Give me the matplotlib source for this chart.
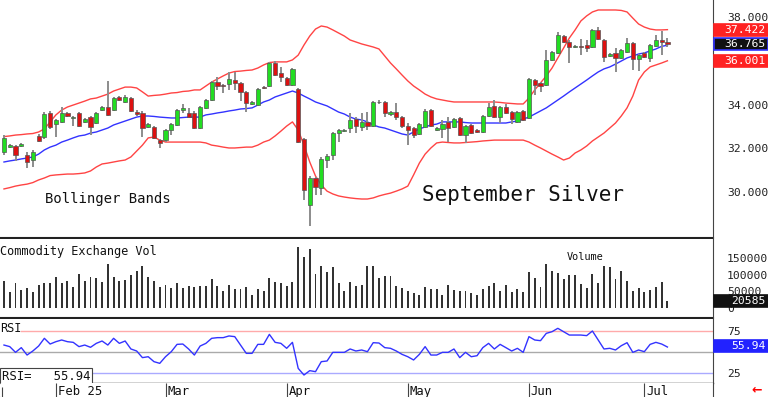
import numpy as np
import matplotlib
matplotlib.use("Agg")
import matplotlib.pyplot as plt
from matplotlib.patches import Rectangle

plt.rcParams['font.family'] = ['DejaVu Sans Mono']

# ---------------- data ----------------
opens = [
31.84, 32.06, 32.11, 32.11, 31.70, 31.47, 32.57, 32.52, 33.62, 33.11,
33.21, 33.62, 33.39, 33.62, 33.21, 33.43, 33.16, 33.75, 33.89, 33.75,
34.35, 34.12, 34.30, 33.66, 33.62, 32.98, 32.98, 32.38, 32.38, 32.84,
33.07, 33.75, 33.62, 33.62, 32.93, 33.85, 34.21, 35.03, 34.91, 34.95,
35.12, 34.99, 34.58, 34.05, 33.98, 34.82, 34.85, 35.90, 35.44, 35.21,
34.89, 34.71, 32.43, 29.42, 30.65, 30.19, 31.47, 31.70, 32.70, 32.80,
32.93, 33.34, 32.98, 33.21, 33.02, 34.10, 34.12, 33.57, 33.66, 33.43,
33.02, 32.93, 32.66, 32.98, 33.75, 32.84, 32.89, 33.21, 32.98, 33.39,
32.61, 33.07, 32.84, 32.75, 33.48, 33.94, 33.43, 33.89, 33.66, 33.21,
33.71, 33.39, 35.12, 34.99, 34.89, 36.04, 36.36, 37.13, 36.86, 36.62,
36.66, 36.72, 36.63, 37.41, 36.95, 36.22, 36.36, 36.13, 36.40, 36.81,
36.08, 36.36, 36.13, 36.67, 36.95, 36.86]
closes = [
32.47, 32.15, 31.70, 32.20, 31.38, 31.84, 32.34, 33.57, 32.98, 33.30,
33.62, 33.48, 33.43, 33.02, 33.34, 32.98, 33.62, 33.89, 33.53, 34.30,
34.21, 34.35, 33.71, 33.57, 32.93, 33.12, 32.48, 32.25, 32.84, 33.12,
33.75, 33.85, 33.43, 32.93, 33.89, 34.21, 35.03, 34.85, 34.87, 35.17,
34.99, 34.58, 34.07, 34.12, 34.71, 34.76, 35.90, 35.35, 35.26, 34.89,
35.63, 32.29, 30.10, 30.65, 30.24, 31.52, 31.65, 32.70, 32.84, 32.84,
33.30, 33.02, 33.21, 33.02, 34.12, 34.13, 33.62, 33.66, 33.43, 33.02,
32.84, 32.61, 33.12, 33.71, 33.02, 32.93, 33.12, 32.93, 33.34, 32.61,
33.02, 32.70, 32.75, 33.48, 33.89, 33.43, 33.89, 33.62, 33.34, 33.66,
33.30, 35.17, 34.89, 34.85, 36.04, 36.40, 37.18, 36.86, 36.63, 36.66,
36.62, 36.58, 37.41, 36.99, 36.17, 36.31, 36.13, 36.49, 36.81, 36.08,
36.27, 36.17, 36.72, 36.95, 36.86, 36.765]
highs = [
32.61, 32.20, 32.15, 32.25, 31.84, 31.95, 32.65, 33.65, 33.70, 33.35,
33.89, 33.68, 33.48, 33.68, 33.40, 33.48, 33.66, 33.95, 35.08, 34.35,
34.40, 34.45, 34.35, 33.75, 33.70, 33.17, 33.02, 32.43, 32.89, 33.17,
33.80, 34.03, 33.85, 33.70, 33.95, 34.25, 35.10, 35.26, 34.92, 35.49,
35.49, 35.03, 34.62, 34.15, 34.78, 34.85, 35.95, 35.99, 35.72, 35.26,
35.68, 34.78, 32.47, 30.75, 30.70, 31.60, 31.75, 32.75, 32.90, 32.89,
33.62, 33.43, 33.62, 33.66, 34.17, 34.20, 34.17, 33.70, 34.07, 33.48,
33.16, 32.98, 33.17, 33.80, 33.80, 32.98, 33.30, 33.43, 33.40, 33.45,
33.07, 33.12, 32.89, 33.53, 34.07, 34.21, 33.95, 34.03, 33.70, 33.70,
33.75, 35.22, 35.17, 35.03, 36.49, 36.45, 37.32, 37.20, 36.95, 36.70,
37.00, 36.95, 37.46, 37.54, 37.00, 36.36, 36.58, 36.54, 37.04, 36.86,
36.31, 36.40, 36.77, 37.18, 37.36, 37.04]
lows = [
31.70, 32.00, 31.43, 32.05, 31.10, 31.15, 32.30, 32.45, 32.90, 32.52,
33.15, 33.42, 33.02, 32.98, 33.15, 32.61, 33.10, 33.70, 33.48, 33.70,
34.15, 34.08, 33.66, 33.50, 32.52, 32.93, 32.43, 32.02, 32.30, 32.61,
33.02, 33.62, 33.39, 32.88, 32.88, 33.80, 34.15, 34.67, 34.53, 34.67,
34.67, 34.17, 33.66, 34.00, 33.93, 34.71, 34.80, 35.30, 35.03, 34.85,
34.85, 32.25, 29.64, 28.46, 29.87, 29.87, 31.10, 31.47, 32.29, 32.75,
32.70, 32.70, 32.80, 32.84, 32.98, 34.05, 33.43, 33.48, 33.30, 32.93,
32.15, 32.48, 32.61, 32.93, 32.98, 32.80, 32.48, 32.29, 32.93, 32.57,
32.25, 32.66, 32.70, 32.70, 33.43, 33.39, 33.16, 33.57, 33.11, 33.16,
33.25, 33.34, 34.44, 34.58, 34.85, 35.99, 36.30, 36.80, 35.90, 36.58,
36.27, 36.40, 36.58, 36.95, 35.94, 36.18, 35.49, 36.08, 36.36, 35.58,
35.53, 36.13, 35.94, 36.62, 36.27, 36.63]

bb_upper = [
32.54, 32.57, 32.61, 32.63, 32.66, 32.68, 32.75, 32.89, 33.21, 33.53,
33.75, 33.89, 33.98, 34.07, 34.16, 34.26, 34.30, 34.39, 34.48, 34.62,
34.71, 34.80, 34.80, 34.76, 34.58, 34.39, 34.42, 34.44, 34.48, 34.53,
34.55, 34.60, 34.62, 34.67, 34.67, 34.85, 35.03, 35.17, 35.31, 35.44,
35.51, 35.53, 35.56, 35.58, 35.67, 35.81, 35.92, 35.95, 35.95, 35.95,
36.04, 36.26, 36.72, 37.13, 37.45, 37.59, 37.54, 37.41, 37.27, 37.13,
36.95, 36.86, 36.77, 36.70, 36.63, 36.54, 36.22, 35.90, 35.63, 35.35,
35.08, 34.85, 34.67, 34.48, 34.35, 34.26, 34.21, 34.16, 34.12, 34.12,
34.12, 34.12, 34.12, 34.12, 34.12, 34.12, 34.10, 34.07, 34.05, 34.03,
34.03, 34.30, 34.67, 34.99, 35.31, 35.67, 36.13, 36.58, 37.04, 37.41,
37.82, 38.05, 38.23, 38.32, 38.32, 38.32, 38.32, 38.30, 38.23, 37.95,
37.68, 37.54, 37.45, 37.41, 37.41, 37.422]
bb_mid = [
31.38, 31.43, 31.47, 31.52, 31.56, 31.61, 31.74, 31.93, 32.06, 32.15,
32.29, 32.38, 32.48, 32.57, 32.61, 32.70, 32.75, 32.84, 32.93, 33.07,
33.16, 33.25, 33.34, 33.43, 33.48, 33.48, 33.46, 33.43, 33.41, 33.39,
33.39, 33.41, 33.43, 33.43, 33.43, 33.53, 33.57, 33.62, 33.66, 33.71,
33.75, 33.80, 33.82, 33.85, 33.98, 34.12, 34.21, 34.35, 34.44, 34.53,
34.62, 34.53, 34.39, 34.26, 34.12, 34.03, 33.94, 33.80, 33.66, 33.57,
33.43, 33.34, 33.30, 33.21, 33.07, 32.98, 32.93, 32.84, 32.75, 32.66,
32.61, 32.75, 32.89, 32.98, 33.07, 33.11, 33.21, 33.21, 33.21, 33.21,
33.18, 33.16, 33.16, 33.16, 33.16, 33.16, 33.16, 33.16, 33.21, 33.25,
33.34, 33.43, 33.57, 33.71, 33.85, 34.03, 34.21, 34.39, 34.58, 34.76,
34.94, 35.12, 35.31, 35.49, 35.63, 35.72, 35.85, 35.99, 36.13, 36.22,
36.31, 36.36, 36.45, 36.54, 36.66, 36.71]
bb_lower = [
30.15, 30.21, 30.28, 30.33, 30.37, 30.44, 30.56, 30.65, 30.76, 30.79,
30.81, 30.83, 30.83, 30.85, 30.88, 30.97, 31.15, 31.29, 31.33, 31.38,
31.43, 31.47, 31.61, 31.88, 32.15, 32.48, 32.52, 32.38, 32.29, 32.29,
32.29, 32.29, 32.29, 32.29, 32.29, 32.25, 32.15, 32.11, 32.06, 32.02,
32.02, 32.04, 32.06, 32.06, 32.15, 32.29, 32.38, 32.57, 32.79, 33.02,
33.21, 32.84, 32.15, 31.38, 30.74, 30.33, 30.05, 29.92, 29.83, 29.78,
29.74, 29.71, 29.69, 29.69, 29.74, 29.83, 29.90, 29.96, 30.05, 30.15,
30.28, 30.79, 31.33, 31.74, 32.02, 32.25, 32.29, 32.27, 32.25, 32.25,
32.27, 32.29, 32.31, 32.34, 32.36, 32.38, 32.38, 32.38, 32.38, 32.38,
32.38, 32.29, 32.15, 32.02, 31.88, 31.74, 31.61, 31.47, 31.56, 31.79,
31.93, 32.11, 32.34, 32.52, 32.70, 32.93, 33.16, 33.48, 33.85, 34.39,
35.12, 35.49, 35.72, 35.81, 35.90, 36.001]

volume = [
80000, 47000, 74000, 54000, 60000, 47000, 70000, 75000, 75000, 92000,
74000, 80000, 64000, 101000, 80000, 92000, 90000, 79000, 132000, 92000,
80000, 84000, 100000, 110000, 127000, 94000, 80000, 62000, 70000, 60000,
76000, 59000, 67000, 64000, 67000, 67000, 86000, 66000, 52000, 69000,
57000, 57000, 62000, 39000, 57000, 50000, 90000, 77000, 75000, 67000,
77000, 182000, 152000, 177000, 102000, 125000, 107000, 122000, 75000, 52000,
77000, 65000, 70000, 125000, 127000, 89000, 97000, 95000, 67000, 60000,
52000, 45000, 39000, 62000, 57000, 57000, 39000, 69000, 54000, 52000,
50000, 46000, 39000, 57000, 65000, 74000, 52000, 69000, 48000, 57000,
47000, 107000, 90000, 62000, 132000, 110000, 104000, 87000, 100000, 100000,
72000, 60000, 102000, 76000, 125000, 124000, 87000, 110000, 80000, 50000,
59000, 47000, 55000, 62000, 77000, 20585]

rsi = [
58.3, 56.4, 49.6, 55.2, 46.4, 51.2, 57.1, 66.3, 59.5, 62.3,
64.3, 62.3, 61.5, 56.4, 58.3, 55.6, 60.3, 63.1, 58.3, 66.3,
60.3, 63.1, 53.6, 51.2, 43.3, 44.4, 38.5, 36.5, 44.4, 50.4,
59.1, 59.5, 53.6, 46.4, 57.1, 60.3, 66.3, 67.1, 67.1, 69.1,
68.3, 58.3, 48.4, 48.4, 59.1, 59.1, 71.0, 61.5, 60.3, 54.4,
61.5, 30.5, 22.6, 27.8, 26.6, 38.5, 39.3, 49.6, 49.6, 49.6,
53.6, 51.2, 52.4, 50.4, 61.1, 60.7, 55.2, 54.4, 51.2, 47.2,
44.4, 40.5, 47.2, 56.4, 46.4, 46.4, 49.6, 49.6, 53.6, 43.3,
49.6, 44.4, 45.6, 55.2, 60.3, 53.6, 59.1, 55.2, 51.2, 54.4,
49.6, 68.3, 64.3, 63.5, 72.2, 74.2, 78.2, 74.2, 70.2, 70.2,
70.2, 69.5, 75.0, 64.3, 53.6, 54.4, 52.4, 57.5, 61.1, 49.6,
52.4, 50.4, 59.1, 61.5, 59.5, 55.94]

month_labels = ["Feb 25", "Mar", "Apr", "May", "Jun", "Jul"]
month_start_index = [9, 28, 49, 70, 91, 111]

price_ticks = [30, 32, 34, 38]
vol_ticks = [0, 50000, 100000, 150000]
rsi_ticks = [25, 75]

# ---------------- figure ----------------
W, H = 768, 397
fig = plt.figure(figsize=(W / 100, H / 100), dpi=100)
fig.patch.set_facecolor('white')

def px_axes(x0, y0, x1, y1):
    return fig.add_axes([x0 / W, 1 - y1 / H, (x1 - x0) / W, (y1 - y0) / H])

n = len(closes)
x = np.arange(n)
XL = (-0.69, 122.9)
PLOT_R = 713
LBL = 8.2

ax = px_axes(0, 0, PLOT_R, 238)
axv = px_axes(0, 239, PLOT_R, 318)
axr = px_axes(0, 319, PLOT_R, 383)
axd = px_axes(0, 383, PLOT_R, 397)

for a in (ax, axv, axr, axd):
    a.set_xlim(*XL)
    a.set_xticks([])
    a.set_facecolor('white')
    for s in a.spines.values():
        s.set_visible(False)

def right_ticks(a, ticks, labels):
    a.set_yticks(ticks)
    a.set_yticklabels(labels)
    a.yaxis.tick_right()
    a.tick_params(axis='y', length=0, pad=10, labelsize=LBL, colors='#222222')

def value_box(a, y, txt, fc, ec=None, h=12):
    fig.canvas.draw()
    yd = a.transData.transform((0, y))[1]
    yf = yd / (H)
    hf = h / H
    fig.add_artist(Rectangle((714 / W, yf - hf / 2), (W - 714) / W, hf,
                             transform=fig.transFigure, fc=fc,
                             ec=ec if ec else fc, lw=1.2, zorder=5))
    fig.text(766 / W, yf, txt, ha='right', va='center', fontsize=LBL,
             color='white', zorder=6)

# main price panel
ax.set_ylim(27.91, 38.776)
o = np.array(opens); c = np.array(closes)
up = c >= o
body_bottom = np.minimum(o, c)
body_h = np.maximum(np.abs(c - o), 0.03)
ax.vlines(x, lows, highs, color='#8c8c8c', lw=1.4, zorder=2)
ax.bar(x, body_h, bottom=body_bottom, width=0.72,
       color=np.where(up, '#22dd22', '#dd1111'), edgecolor='#555555',
       linewidth=0.5, zorder=3)
ax.plot(x, bb_upper, color='#ff4444', lw=1.0, zorder=1)
ax.plot(x, bb_lower, color='#ff4444', lw=1.0, zorder=1)
ax.plot(x, bb_mid, color='#3333ff', lw=1.0, zorder=1)
ax.spines['bottom'].set_visible(True)
ax.spines['bottom'].set_linewidth(1.5)
ax.spines['bottom'].set_color('#222222')
right_ticks(ax, price_ticks, [f"{v:.3f}" for v in price_ticks])
ax.text(0.063, 0.145, "Bollinger Bands", transform=ax.transAxes, fontsize=10, color='#111111')
ax.text(0.592, 0.155, "September Silver", transform=ax.transAxes, fontsize=15, color='#111111')

# volume panel
axv.set_ylim(-30000, 207000)
axv.bar(x, volume, width=0.33, color='#333333', zorder=2)
axv.spines['bottom'].set_visible(True)
axv.spines['bottom'].set_linewidth(1.5)
axv.spines['bottom'].set_color('#222222')
right_ticks(axv, vol_ticks, [str(v) for v in vol_ticks])
axv.text(0.0, 0.92, "Commodity Exchange Vol", transform=axv.transAxes, fontsize=8.6,
         va='top', color='#111111')
axv.text(0.795, 0.84, "Volume", transform=axv.transAxes, fontsize=7.4, va='top', color='#111111')

# RSI panel
axr.set_ylim(13.1, 89.3)
axr.axhline(75, xmin=0.03, color='#ffaaaa', lw=1.0, zorder=1)
axr.axhline(50, color='#aaaaaa', lw=1.0, zorder=1)
axr.axhline(25, xmin=0.12, color='#aaaaff', lw=1.0, zorder=1)
axr.plot(x, rsi, color='#3333ff', lw=1.0, zorder=2)
right_ticks(axr, rsi_ticks, [str(v) for v in rsi_ticks])
axr.text(0.0, 0.95, "RSI", transform=axr.transAxes, fontsize=8.6, va='top', color='#111111')
axr.text(0.003, 0.1, f"RSI=   {rsi[-1]:.2f}", transform=axr.transAxes, fontsize=8.8,
         va='center', color='#111111',
         bbox=dict(boxstyle='square,pad=0.15', fc='white', ec='#444444', lw=0.8))
axr.spines['bottom'].set_visible(True)
axr.spines['bottom'].set_color('#222222')
axr.spines['bottom'].set_linewidth(1.0)

# date axis
axd.set_ylim(0, 1)
axd.vlines(month_start_index, 0, 1, color='#444444', lw=0.8)
for xi, lab in zip(month_start_index, month_labels):
    axd.text(xi + 0.3, 0.42, lab, fontsize=8.8, va='center', ha='left', color='#111111')
axd.vlines([-0.4], 0, 0.75, color='#444444', lw=0.8)

# right border line
fig.add_artist(plt.Line2D([PLOT_R / W, PLOT_R / W], [0, 1], color='#444444', lw=0.8,
                          transform=fig.transFigure))
fig.text(757 / W, 1 - 390 / H, "\u2190", color='red', fontsize=9, ha='center', va='center',
         family='DejaVu Sans', weight='bold')

# last-value boxes
value_box(ax, bb_upper[-1], f"{bb_upper[-1]:.3f}", '#ff2222')
value_box(ax, bb_lower[-1], f"{bb_lower[-1]:.3f}", '#ff2222')
value_box(ax, closes[-1], f"{closes[-1]:.3f}", '#111111', '#3333ff')
value_box(axv, volume[-1], f"{volume[-1]}", '#111111')
value_box(axr, 57.0, f"{rsi[-1]:.2f}", '#2222ff')

fig.savefig("out.png", dpi=100, facecolor='white')
